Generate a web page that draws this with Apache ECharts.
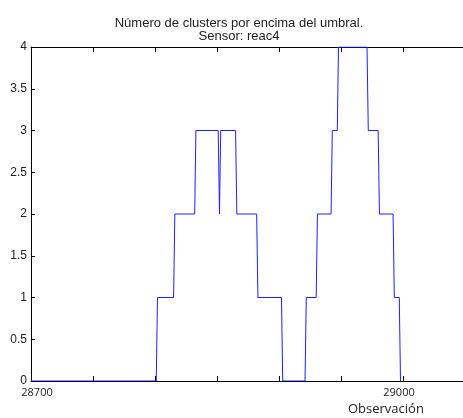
<!DOCTYPE html>
<html>
<head>
<meta charset="utf-8">
<script src="https://cdn.jsdelivr.net/npm/echarts@6/dist/echarts.min.js"></script>
<style>html,body{margin:0;padding:0;background:#fff}#c{width:463px;height:418px}</style>
</head>
<body>
<div id="c"></div>
<script>
var titleLines = ['Número de clusters por encima del umbral.', 'Sensor: reac4'];
var xAxisLabel = 'Observación';
var xLabeled = [28700, 29000];
var obs    = [28700, 28801, 28802, 28815, 28816, 28832, 28833, 28851, 28852, 28853, 28865, 28866, 28882, 28883, 28902, 28903, 28921, 28922, 28930, 28931, 28942, 28943, 28947, 28948, 28971, 28972, 28980, 28981, 28992, 28993, 28997, 28998];
var counts = [0,     0,     1,     1,     2,     2,     3,     3,     2,     3,     3,     2,     2,     1,     1,     0,     0,     1,     1,     2,     2,     3,     3,     4,     4,     3,     3,     2,     2,     1,     1,     0];

var data = obs.map(function (x, i) { return [x, counts[i]]; });
var chart = echarts.init(document.getElementById('c'), null, {renderer: 'canvas'});
var xMin = 28700, xMax = 29048.4;
chart.setOption({
  animation: false,
  backgroundColor: '#fff',
  title: {
    text: titleLines.join('\n'),
    left: 234, top: 12, textAlign: 'center',
    textStyle: {fontFamily: 'Liberation Sans', fontSize: 13, fontWeight: 'normal', color: '#222', lineHeight: 13}
  },
  grid: {left: 31, top: 47, right: 0, bottom: 37},
  xAxis: [{
    type: 'value', min: xMin, max: xMax, interval: 50,
    axisLine: {lineStyle: {color: '#000', width: 1}},
    axisTick: {inside: true, length: 5, lineStyle: {color: '#000'}},
    splitLine: {show: false},
    axisLabel: {
      margin: 6, showMinLabel: true, showMaxLabel: false,
      formatter: function (v) {
        if (v === xLabeled[0]) return '{a|' + v + '}';
        if (v === xLabeled[1]) return '{b|' + v + '}';
        return '';
      },
      rich: {
        a: {fontFamily: 'Open Sans', fontSize: 11, color: '#222', padding: [0, 0, 0, 12]},
        b: {fontFamily: 'Open Sans', fontSize: 11, color: '#222', padding: [0, 8, 0, 0]}
      }
    }
  }, {
    type: 'value', position: 'top', min: xMin, max: xMax, interval: 50,
    axisLine: {lineStyle: {color: '#000', width: 1}},
    axisTick: {inside: true, length: 5, lineStyle: {color: '#000'}},
    axisLabel: {show: false}, splitLine: {show: false}
  }],
  yAxis: {
    type: 'value', min: 0, max: 4, interval: 0.5,
    axisLine: {show: true, lineStyle: {color: '#000', width: 1}},
    axisTick: {show: true, inside: true, length: 4, lineStyle: {color: '#000'}},
    splitLine: {show: false},
    axisLabel: {margin: 4, fontFamily: 'Liberation Sans', fontSize: 12, color: '#222'}
  },
  graphic: [{
    type: 'text', left: 348, top: 403,
    style: {text: xAxisLabel, font: '13px "Open Sans"', fill: '#222'}
  }],
  series: [{
    type: 'line', data: data, xAxisIndex: 0, showSymbol: false, symbol: 'none',
    lineStyle: {color: '#1f1fff', width: 1}, z: 5
  }]
});
</script>
</body>
</html>
